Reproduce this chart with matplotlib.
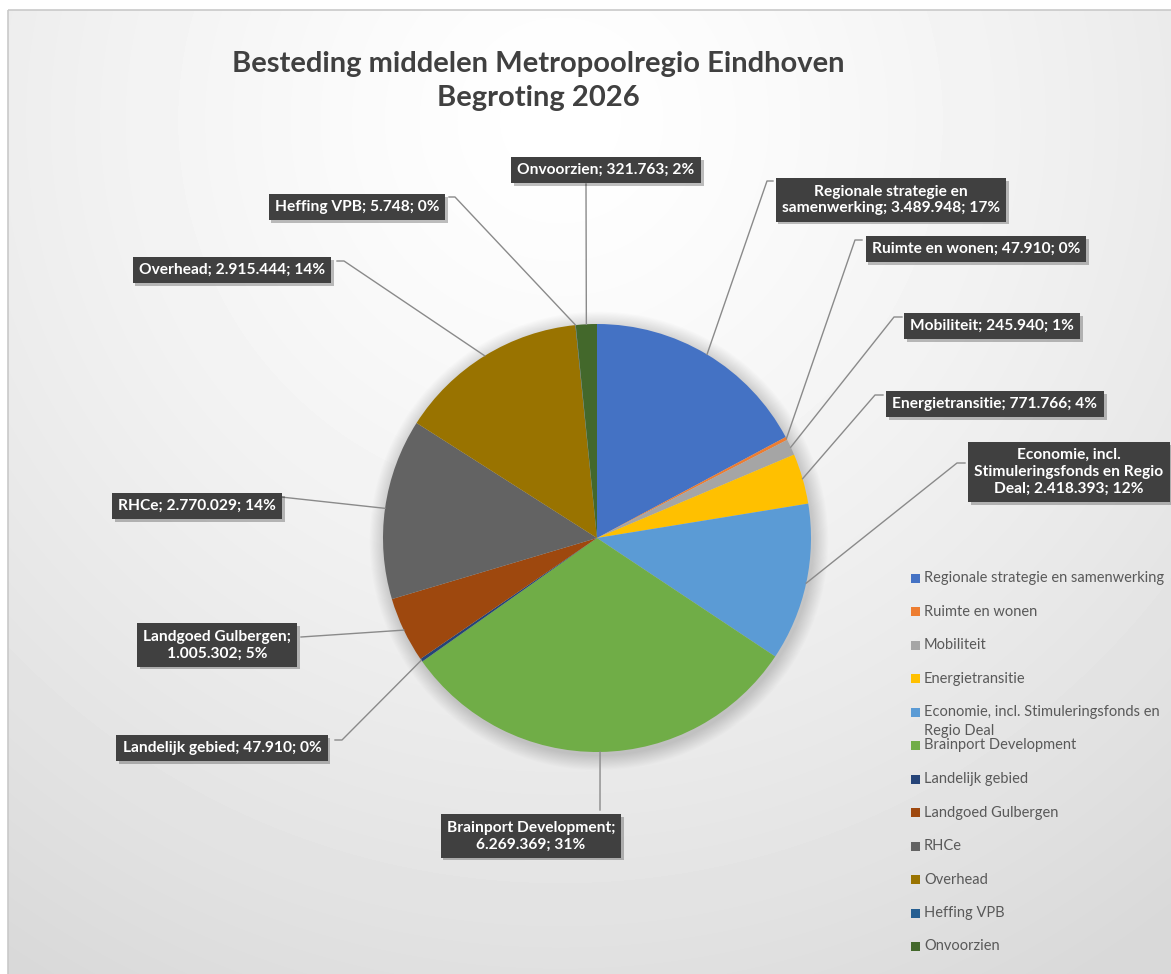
import textwrap
import numpy as np
import matplotlib
matplotlib.use("Agg")
import matplotlib.pyplot as plt
from matplotlib.patches import Rectangle, Circle
import matplotlib.patheffects as pe

# data
categories = ["Regionale strategie en samenwerking", "Ruimte en wonen", "Mobiliteit",
              "Energietransitie", "Economie, incl. Stimuleringsfonds en Regio Deal",
              "Brainport Development", "Landelijk gebied", "Landgoed Gulbergen",
              "RHCe", "Overhead", "Heffing VPB", "Onvoorzien"]
amounts = [3489948, 47910, 245940, 771766, 2418393, 6269369,
           47910, 1005302, 2770029, 2915444, 5748, 321763]
colors = ["#4472C4", "#ED7D31", "#A5A5A5", "#FFC000", "#5B9BD5", "#70AD47",
          "#264478", "#9E480E", "#636363", "#997300", "#255E91", "#43682B"]
title = "Besteding middelen Metropoolregio Eindhoven\nBegroting 2026"

# layout (pixel coordinates, y down)
W, H = 1171, 974
cx, cy, R = 597, 538, 214
label_wrap = [28, 40, 40, 40, 26, 22, 40, 20, 40, 40, 40, 40]
label_pos = [(891, 200), (976, 249), (992, 326), (995, 404), (1069, 472), (531, 836),
             (222, 748), (217, 645), (197, 506), (232, 270), (357, 207), (606, 170)]
line_end = [(773, 181), (862, 240), (902, 317), (883, 395), (965, 463), (600, 810),
            (335, 740), (301, 637), (281, 497), (337, 261), (449, 197), (586, 184)]
elbow = [(767, 181), (855, 240), (894, 317), (875, 395), (957, 463), (600, 810),
         (342, 740), (301, 637), (281, 497), (344, 261), (455, 197), (586, 184)]

plt.rcParams['font.family'] = ['Lato', 'DejaVu Sans']

fig = plt.figure(figsize=(W / 100, H / 100), dpi=100, facecolor='white')
ax = fig.add_axes([0, 0, 1, 1])

# background: soft radial gradient inside a thin frame
x0, y0 = 8, 10
gx, gy = np.meshgrid(np.arange(x0, W), np.arange(y0, H))
d = np.sqrt((gx - 560) ** 2 + (gy - 120) ** 2)
shade = 1 - 0.15 * np.clip(d / 1000, 0, 1) ** 1.3
ax.imshow(shade, extent=[x0, W, H, y0], cmap='gray', vmin=0, vmax=1,
          zorder=0, interpolation='bilinear')
ax.add_patch(Rectangle((x0, y0), W - x0 + 5, H - y0 + 5, fill=False,
                       edgecolor='#c9c9c9', lw=1.2, zorder=1))

# soft shadow around the pie
for i in range(14):
    ax.add_patch(Circle((cx + 2, cy + 3), R + 1 + i * 1.1, color='black',
                        alpha=0.011, lw=0, zorder=2))

total = sum(amounts)
wedges, _ = ax.pie(amounts, colors=colors, startangle=-90, counterclock=True,
                   center=(cx, cy), radius=R, wedgeprops=dict(linewidth=0))
for w in wedges:
    w.set_zorder(3)

# data labels with leader lines
for i, w in enumerate(wedges):
    mid = np.deg2rad((w.theta1 + w.theta2) / 2)
    px, py = cx + R * np.cos(mid), cy + R * np.sin(mid)
    ex, ey = elbow[i]
    lx, ly = line_end[i]
    ax.plot([px, ex, lx], [py, ey, ly], color='#8a8a8a', lw=1, zorder=4)

    pct = round(amounts[i] / total * 100)
    num = f"{amounts[i]:,}".replace(",", ".")
    txt = f"{categories[i]}; {num}; {pct}%"
    txt = "\n".join(textwrap.wrap(txt, label_wrap[i]))
    t = ax.text(label_pos[i][0], label_pos[i][1], txt, ha='center', va='center',
                multialignment='center', color='white', fontsize=11.2,
                fontweight='bold', linespacing=1.25, zorder=6,
                bbox=dict(boxstyle='square,pad=0.4', facecolor='#404040',
                          edgecolor='none'))
    t.get_bbox_patch().set_path_effects([
        pe.withSimplePatchShadow(offset=(2, -2), shadow_rgbFace='black', alpha=0.25),
        pe.Normal()])

# title
ax.text(538, 81, title, ha='center', va='center', fontsize=21, fontweight='bold',
        color='#404040', linespacing=1.42, zorder=6)

# legend
leg_y0, leg_dy = 578, 33.5
for i, name in enumerate(categories):
    y = leg_y0 + i * leg_dy
    ax.add_patch(Rectangle((911, y - 4.5), 9, 9, facecolor=colors[i],
                           edgecolor='none', zorder=6))
    lines = textwrap.wrap(name, 36)
    ax.text(924, y - 7, "\n".join(lines), ha='left', va='top', fontsize=10.5,
            color='#595959', linespacing=1.5, zorder=6)

ax.set_xlim(0, W)
ax.set_ylim(H, 0)
ax.set_aspect('auto')
ax.axis('off')

fig.savefig('out.png', dpi=100, facecolor='white')
